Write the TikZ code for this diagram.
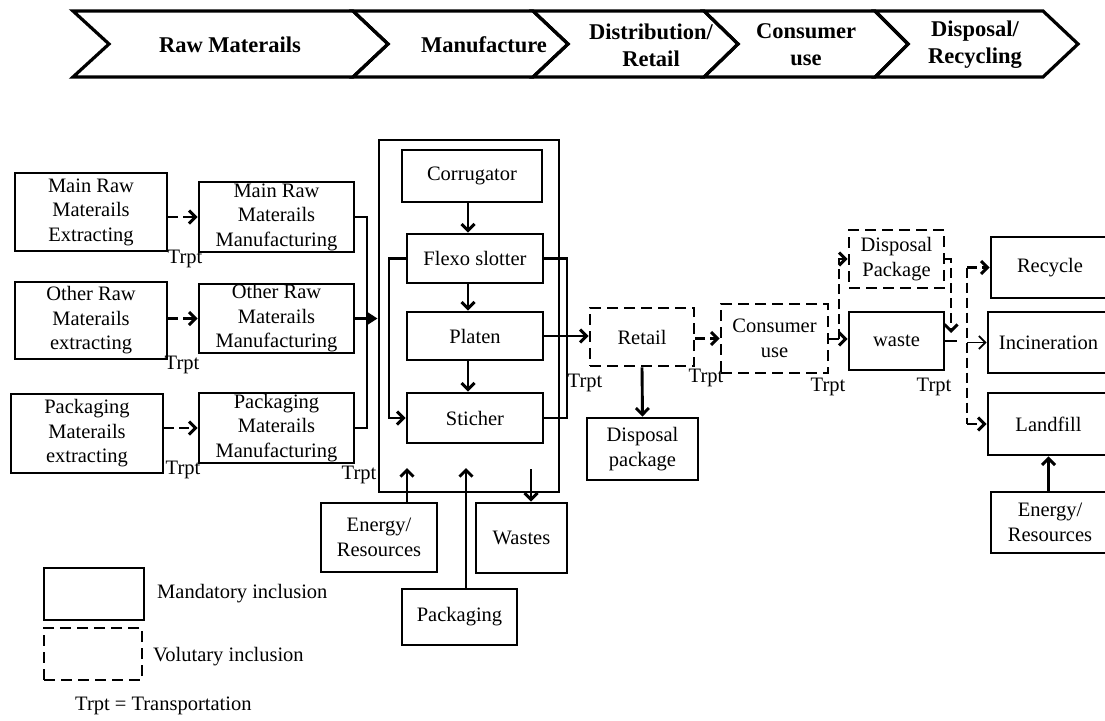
\documentclass[tikz,border=0pt]{standalone}
\usepackage{fontspec}
\setmainfont{Liberation Serif}
\usetikzlibrary{arrows.meta}
\begin{document}
\begin{tikzpicture}[x=1pt,y=-1pt,
 box/.style={draw, line width=2.9pt, inner sep=0pt, align=center, font=\fontsize{20.5}{24.5}\selectfont},
 dbox/.style={box, dash pattern=on 11pt off 6pt},
 lbl/.style={inner sep=0pt, font=\fontsize{20.5}{24}\selectfont},
 hdr/.style={inner sep=0pt, align=center, font=\bfseries\fontsize{22.5}{27}\selectfont},
 chev/.style={draw, line width=3.2pt, line join=miter},
 conn/.style={line width=2.9pt},
 arr/.style={conn, -{Straight Barb[length=6.5pt,width=13pt]}},
 tarr/.style={conn, -{Triangle[length=10pt,width=12pt]}},
 darr/.style={arr, dash pattern=on 10pt off 5pt},
 dline/.style={conn, dash pattern=on 10pt off 5pt},
 thinarr/.style={line width=1.7pt, -{Straight Barb[length=6.5pt,width=13pt]}}
]
\useasboundingbox (0,0) rectangle (1105,720);

% header chevrons
\draw[chev] (73,11) -- (353,11) -- (388,44) -- (353,77) -- (73,77) -- (109,44) -- cycle;
\draw[chev] (353,11) -- (533,11) -- (568,44) -- (533,77) -- (353,77) -- (388,44) -- cycle;
\draw[chev] (533,11) -- (704,11) -- (738,44) -- (704,77) -- (533,77) -- (568,44) -- cycle;
\draw[chev] (704,11) -- (875,11) -- (908,44) -- (875,77) -- (704,77) -- (738,44) -- cycle;
\draw[chev] (875,11) -- (1043,11) -- (1078,44) -- (1043,77) -- (875,77) -- (908,44) -- cycle;
\node[hdr] (h1) at (230,45) {Raw Materails};
\node[hdr] (h2) at (484,45) {Manufacture};
\node[hdr] (h3) at (651,45) {Distribution/\\Retail};
\node[hdr] (h4) at (806,45) {Consumer\\use};
\node[hdr] (h5) at (975,45) {Disposal/\\Recycling};

% raw materials
\node[box, minimum width=152, minimum height=78] (A1) at (91,212) {Main Raw\\Materails\\Extracting};
\node[box, minimum width=155, minimum height=70] (B1) at (276.5,217) {Main Raw\\Materails\\Manufacturing};
\node[box, minimum width=152, minimum height=77] (A2) at (91,320.5) {Other Raw\\Materails\\extracting};
\node[box, minimum width=155, minimum height=69] (B2) at (276.5,318.5) {Other Raw\\Materails\\Manufacturing};
\node[box, minimum width=152, minimum height=79] (A3) at (87,433.5) {Packaging\\Materails\\extracting};
\node[box, minimum width=155, minimum height=70] (B3) at (276.5,428) {Packaging\\Materails\\Manufacturing};

% manufacture
\node[box, minimum width=180, minimum height=352] (big) at (469,316) {};
\node[box, minimum width=140, minimum height=52] (corr) at (472,176) {Corrugator};
\node[box, minimum width=136, minimum height=49] (flexo) at (475,258.5) {Flexo slotter};
\node[box, minimum width=136, minimum height=48] (platen) at (475,336) {Platen};
\node[box, minimum width=136, minimum height=50] (stich) at (475,418) {Sticher};
\node[box, minimum width=116, minimum height=69] (enM) at (379,537.5) {Energy/\\Resources};
\node[box, minimum width=91, minimum height=70] (wastes) at (521.5,538) {Wastes};
\node[box, minimum width=115, minimum height=56] (pack) at (459.5,617) {Packaging};

% distribution, use, disposal
\node[dbox, minimum width=104, minimum height=58] (retail) at (642,337) {Retail};
\node[dbox, minimum width=107, minimum height=69] (cons) at (774.5,338.5) {Consumer\\use};
\node[box, minimum width=111, minimum height=62] (dpl) at (642.5,449) {Disposal\\package};
\node[dbox, minimum width=95, minimum height=58] (dpu) at (896.5,259) {Disposal\\Package};
\node[box, minimum width=95, minimum height=58] (waste) at (896.5,341) {waste};
\node[box, minimum width=118, minimum height=61] (recy) at (1050,267.5) {Recycle};
\node[box, minimum width=121, minimum height=61] (inci) at (1048.5,342.5) {Incineration};
\node[box, minimum width=121, minimum height=62] (land) at (1048.5,424) {Landfill};
\node[box, minimum width=118, minimum height=61] (enR) at (1050,522.5) {Energy/\\Resources};

% legend
\node[box, minimum width=100, minimum height=52] (lg1) at (94,594) {};
\node[dbox, minimum width=98, minimum height=52] (lg2) at (93,654) {};
\node[lbl, anchor=west] (lt1) at (157,594) {Mandatory inclusion};
\node[lbl, anchor=west] (lt2) at (153,657) {Volutary inclusion};
\node[lbl, anchor=west] (lt3) at (75,706) {Trpt = Transportation};

% Trpt labels
\node[lbl] (t1) at (185,259) {Trpt};
\node[lbl] (t2) at (182,365) {Trpt};
\node[lbl] (t3) at (183,470) {Trpt};
\node[lbl] (t4) at (359,475) {Trpt};
\node[lbl] (t5) at (585,383) {Trpt};
\node[lbl] (t6) at (706,378) {Trpt};
\node[lbl] (t7) at (828,387) {Trpt};
\node[lbl] (t8) at (934,387) {Trpt};

% raw materials connectors
\draw[darr] (A1.east |- B1.west) -- (B1.west);
\draw[darr] (A2.east |- B2.west) -- (B2.west);
\draw[darr] (A3.east |- B3.west) -- (B3.west);
\coordinate (cj) at (367,0);
\draw[conn] (B1.east) -- (cj |- B1.east) -- (cj |- B3.east) -- (B3.east);
\draw[tarr] (B2.east) -- (big.west |- B2.east);

% manufacture connectors
\coordinate (mx) at (468,0);
\draw[arr] (mx |- corr.south) -- (mx |- flexo.north);
\draw[arr] (mx |- flexo.south) -- (mx |- platen.north);
\draw[arr] (mx |- platen.south) -- (mx |- stich.north);
\coordinate (lx) at (389,0);
\coordinate (rx) at (567,0);
\draw[arr] (flexo.west) -- (lx |- flexo.west) -- (lx |- stich.west) -- (stich.west);
\draw[conn] (flexo.east) -- (rx |- flexo.east) -- (rx |- stich.east) -- (stich.east);
\coordinate (eIn) at (407,468);
\coordinate (pIn) at (466,468);
\coordinate (wOut) at (531,469);
\draw[arr] (eIn |- enM.north) -- (eIn);
\draw[arr] (pIn |- pack.north) -- (pIn);
\draw[arr] (wOut) -- (wOut |- wastes.north);

% downstream connectors
\draw[arr] (platen.east) -- (retail.west |- platen.east);
\draw[darr] (retail.east |- cons.west) -- (cons.west);
\draw[arr] (retail.south) -- (dpl.north);
\coordinate (cy) at (0,339);
\draw[darr] (cons.east |- cy) -- (waste.west |- cy);
\coordinate (vx) at (839,339);
\draw[darr] (vx) -- (vx |- dpu.west) -- (dpu.west);
\coordinate (dx) at (951,333);
\draw[darr] (dpu.east) -- (dx |- dpu.east) -- (dx);
\coordinate (wx) at (957,0);
\draw[conn] (waste.east) -- (wx |- waste.east);
\coordinate (vt) at (967,267.5);
\coordinate (vb) at (967,424);
\draw[dline] (vt) -- (vb);
\draw[darr] (vt) -- (recy.west);
\draw[darr] (vb) -- (land.west);
\draw[thinarr] (vt |- inci.west) -- (inci.west);
\draw[arr] (enR.north -| land.south) -- (land.south);
\end{tikzpicture}
\end{document}
